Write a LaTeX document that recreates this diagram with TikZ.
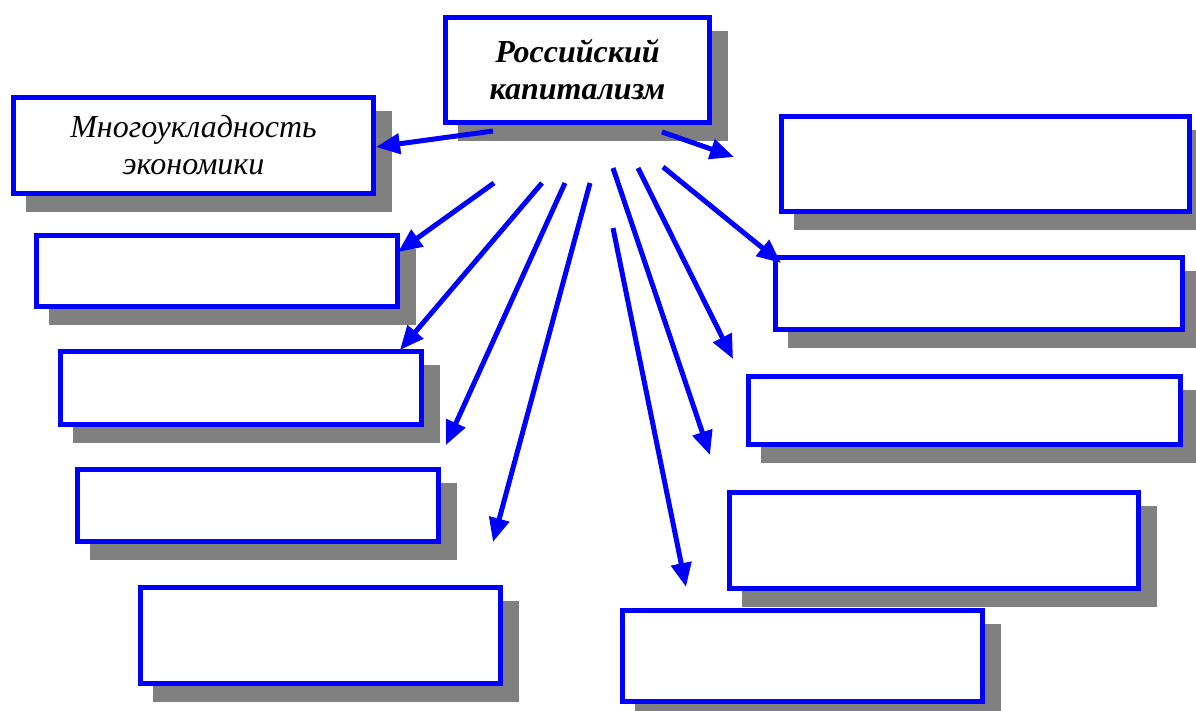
\documentclass[tikz,border=0pt]{standalone}
\usepackage{fontspec}
\setmainfont{Liberation Serif}
\usetikzlibrary{arrows.meta,calc,backgrounds}
\definecolor{boxblue}{RGB}{0,0,255}
\definecolor{shadowgray}{RGB}{128,128,128}
\tikzset{
  panel/.style={draw=boxblue, line width=5.5pt, fill=white, inner sep=0pt,
    align=center, font=\fontsize{32}{37}\selectfont},
  conn/.style={draw=boxblue, line width=5pt,
    -{Triangle[length=24pt,width=20pt]}}
}
\begin{document}
\begin{tikzpicture}[x=1pt,y=-1pt]
\useasboundingbox (0,0) rectangle (1196,711);
% boxes
\node[panel, minimum width=264pt, minimum height=105pt] (C) at (577.5,70)
  {\bfseries\itshape Российский\\\bfseries\itshape капитализм};
\node[panel, minimum width=360pt, minimum height=96pt] (B1) at (193.5,145.5)
  {\itshape Многоукладность\\\itshape экономики};
\node[panel, minimum width=361pt, minimum height=71pt] (L2) at (217,271) {};
\node[panel, minimum width=361pt, minimum height=73pt] (L3) at (241,388) {};
\node[panel, minimum width=361pt, minimum height=72pt] (L4) at (258,505.5) {};
\node[panel, minimum width=360pt, minimum height=96pt] (L5) at (320.5,635.5) {};
\node[panel, minimum width=408pt, minimum height=95pt] (R1) at (985.5,164) {};
\node[panel, minimum width=407pt, minimum height=72pt] (R2) at (979,293.5) {};
\node[panel, minimum width=432pt, minimum height=68pt] (R3) at (964.5,410.5) {};
\node[panel, minimum width=409pt, minimum height=96pt] (R4) at (934,540.5) {};
\node[panel, minimum width=360pt, minimum height=91pt] (R5) at (802.5,656) {};
% shadows
\begin{scope}[on background layer]
\foreach \n in {C,B1,L2,L3,L4,L5,R1,R2,R3,R4,R5}
  \fill[shadowgray] ($(\n.north west)+(15,16)$) rectangle ($(\n.south east)+(16,16)$);
\end{scope}
% connector end points
\coordinate (s1) at (493,131);  \coordinate (e1) at (376,147);
\coordinate (s2) at (662,132);  \coordinate (e2) at (734,157);
\coordinate (s3) at (494,183);  \coordinate (e3) at (398,252);
\coordinate (s4) at (542,183);  \coordinate (e4) at (400,350);
\coordinate (s5) at (565,183);  \coordinate (e5) at (446,445);
\coordinate (s6) at (590,183);  \coordinate (e6) at (493,542);
\coordinate (s7) at (613,228);  \coordinate (e7) at (686,587);
\coordinate (s8) at (613,168);  \coordinate (e8) at (710,455);
\coordinate (s9) at (638,168);  \coordinate (e9) at (733,359);
\coordinate (s10) at (663,167); \coordinate (e10) at (781,263);
\foreach \i in {1,...,10}
  \draw[conn] (s\i) -- (e\i);
\end{tikzpicture}
\end{document}
